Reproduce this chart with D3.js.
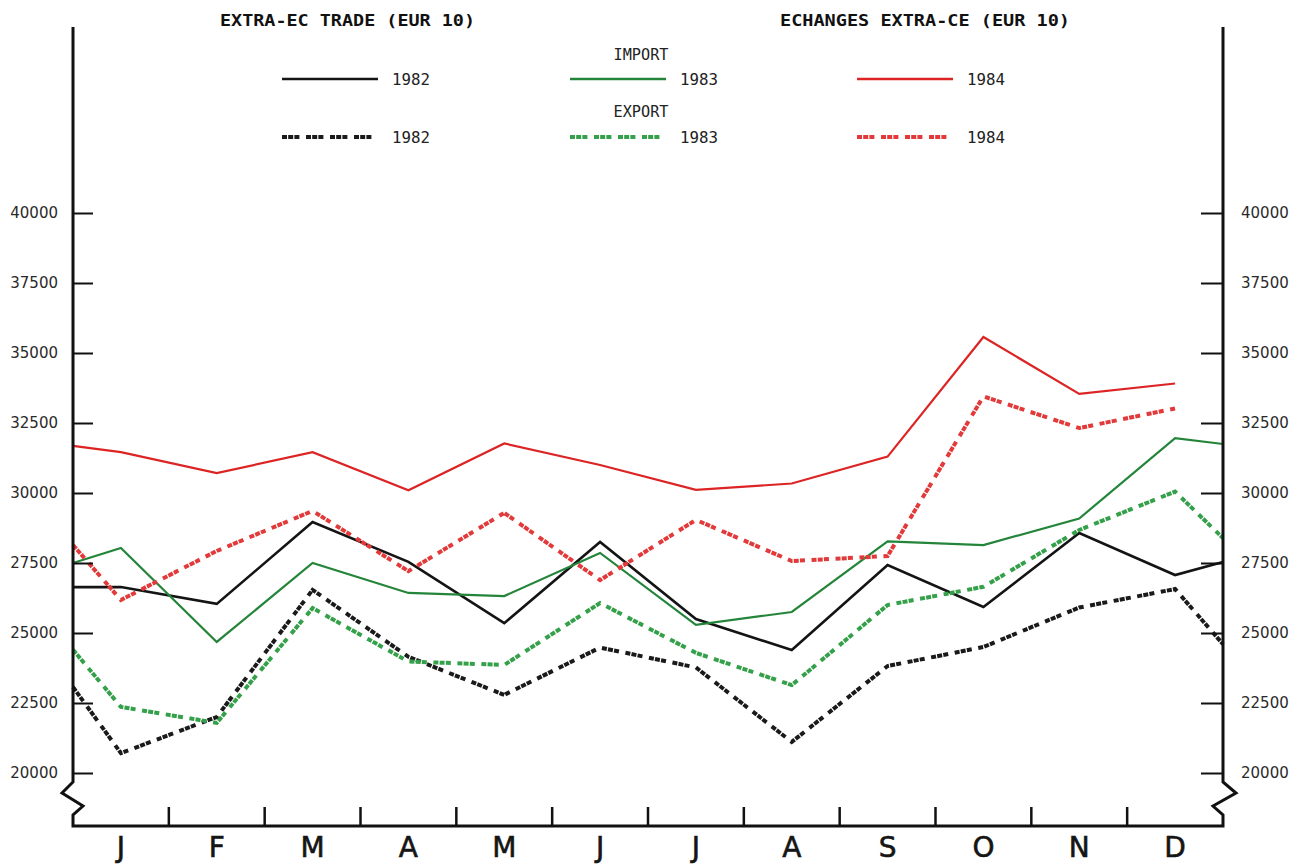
<!DOCTYPE html>
<html>
<head>
<meta charset="utf-8">
<script src="https://d3js.org/d3.v7.min.js"></script>
<style>
  body { margin: 0; background: #fff; }
</style>
</head>
<body>
<script>
let w = 1309;
let h = 865;

let months = ["J", "F", "M", "A", "M", "J", "J", "A", "S", "O", "N", "D"];
let yTicks = [20000, 22500, 25000, 27500, 30000, 32500, 35000, 37500, 40000];

// monthly values
let imp1982 = [26640, 26040, 28960, 27540, 25350, 28250, 25500, 24390, 27430, 25930, 28570, 27070];
let imp1983 = [28040, 24680, 27500, 26430, 26320, 27860, 25290, 25750, 28270, 28140, 29090, 31960];
let imp1984 = [31460, 30710, 31460, 30100, 31770, 31000, 30110, 30340, 31300, 35570, 33540, 33910];
let exp1982 = [20710, 22000, 26540, 24150, 22790, 24480, 23770, 21110, 23820, 24500, 25910, 26570];
let exp1983 = [22360, 21790, 25890, 23980, 23860, 26070, 24290, 23140, 26000, 26650, 28680, 30050];
let exp1984 = [26180, 27930, 29360, 27210, 29290, 26890, 29040, 27570, 27750, 33450, 32320, 33020];

// where each line meets the left and right axis (null = line stops at D)
let leftEdge  = [26640, 27500, 31680, 23070, 24400, 28140];
let rightEdge = [27540, 31750, null, 24600, 28390, null];

let years = ["1982", "1983", "1984"];
let colors = ["#141414", "#24853a", "#dc2424"];
let dashColors = ["#1a1a1a", "#35a04a", "#e23a3a"];
let dash = "5,1.2,5,1.2,5,6.6";

let series = [imp1982, imp1983, imp1984, exp1982, exp1983, exp1984];

let left = 73, right = 1223, bottom = 826;

let xScale = d3.scaleBand()
               .domain(d3.range(months.length))
               .range([left, right]);
let yScale = d3.scaleLinear()
               .domain([20000, 40000])
               .range([773, 213]);

let svg = d3.select("body")
            .append("svg")
            .attr("width", w)
            .attr("height", h);

// titles
svg.append("text")
   .attr("x", 220).attr("y", 26)
   .attr("textLength", 255).attr("lengthAdjust", "spacingAndGlyphs")
   .attr("font-family", "DejaVu Sans Mono").attr("font-weight", "bold")
   .attr("font-size", "16px").attr("fill", "#111")
   .text("EXTRA-EC TRADE (EUR 10)");
svg.append("text")
   .attr("x", 780).attr("y", 26)
   .attr("textLength", 290).attr("lengthAdjust", "spacingAndGlyphs")
   .attr("font-family", "DejaVu Sans Mono").attr("font-weight", "bold")
   .attr("font-size", "16px").attr("fill", "#111")
   .text("ECHANGES EXTRA-CE (EUR 10)");

// legend
let legendX = [282, 570, 857];
svg.selectAll(".legHead")
   .data(["IMPORT", "EXPORT"])
   .enter()
   .append("text")
   .attr("x", 641)
   .attr("y", function(d, i) { return 60 + i * 57; })
   .attr("text-anchor", "middle")
   .attr("textLength", 55).attr("lengthAdjust", "spacingAndGlyphs")
   .attr("font-family", "DejaVu Sans Mono")
   .attr("font-size", "15px")
   .attr("fill", "#222")
   .text(function(d) { return d; });

[0, 1].forEach(function(row) {
    let y = 79 + row * 58;
    svg.selectAll(".leg" + row)
       .data(years)
       .enter()
       .append("line")
       .attr("x1", function(d, i) { return legendX[i]; })
       .attr("x2", function(d, i) { return legendX[i] + 96; })
       .attr("y1", y).attr("y2", y)
       .attr("stroke", function(d, i) { return row ? dashColors[i] : colors[i]; })
       .attr("stroke-width", row ? 4 : 2.5)
       .attr("stroke-dasharray", row ? dash : null);
    svg.selectAll(".legt" + row)
       .data(years)
       .enter()
       .append("text")
       .attr("x", function(d, i) { return legendX[i] + 110; })
       .attr("y", y + 6)
       .attr("textLength", 38).attr("lengthAdjust", "spacingAndGlyphs")
       .attr("font-family", "DejaVu Sans Mono")
       .attr("font-size", "15px")
       .attr("fill", "#222")
       .text(function(d) { return d; });
});

// data lines
let line = d3.line()
             .x(function(d) { return d[0]; })
             .y(function(d) { return yScale(d[1]); });

series.forEach(function(vals, s) {
    let pts = [[left, leftEdge[s]]];
    vals.forEach(function(v, i) {
        pts.push([xScale(i) + xScale.bandwidth() / 2, v]);
    });
    if (rightEdge[s] !== null) pts.push([right, rightEdge[s]]);
    let dashed = s >= 3;
    let c = s % 3;
    svg.append("path")
       .datum(pts)
       .attr("d", line)
       .attr("fill", "none")
       .attr("stroke", dashed ? dashColors[c] : colors[c])
       .attr("stroke-width", dashed ? 4 : (c === 0 ? 2.6 : 2.2))
       .attr("stroke-linejoin", "miter")
       .attr("stroke-dasharray", dashed ? dash : null);
});

// y axes, ticks pointing inward
let leftAxis = d3.axisLeft(yScale)
                 .tickValues(yTicks)
                 .tickSizeInner(-20)
                 .tickSizeOuter(0)
                 .tickPadding(15)
                 .tickFormat(d3.format("d"));
let rightAxis = d3.axisRight(yScale)
                  .tickValues(yTicks)
                  .tickSizeInner(-22)
                  .tickSizeOuter(0)
                  .tickPadding(18)
                  .tickFormat(d3.format("d"));

[[leftAxis, left], [rightAxis, right]].forEach(function(a) {
    let g = svg.append("g")
               .attr("transform", "translate(" + a[1] + ",0)")
               .call(a[0]);
    g.select(".domain").remove();
    g.selectAll(".tick line").attr("stroke", "#111").attr("stroke-width", 2);
    g.selectAll(".tick text")
     .attr("font-family", "DejaVu Sans")
     .attr("font-size", "15px")
     .attr("fill", "#2a2a2a");
});

// frame with axis breaks
let frame = [[left, 27], [left, 782], [62, 793], [83, 806], [left, 815], [left, bottom],
             [right, bottom], [right, 815], [1213, 806], [1236, 793], [right, 782], [right, 27]];
svg.append("path")
   .attr("d", d3.line()(frame))
   .attr("fill", "none")
   .attr("stroke", "#111")
   .attr("stroke-width", 3)
   .attr("stroke-linejoin", "miter");

// month ticks at band boundaries and labels at centres
svg.selectAll(".mtick")
   .data(d3.range(1, months.length))
   .enter()
   .append("line")
   .attr("x1", function(d) { return xScale(d); })
   .attr("x2", function(d) { return xScale(d); })
   .attr("y1", bottom)
   .attr("y2", bottom - 19)
   .attr("stroke", "#111")
   .attr("stroke-width", 2.5);

svg.selectAll(".mlab")
   .data(months)
   .enter()
   .append("text")
   .attr("x", function(d, i) { return xScale(i) + xScale.bandwidth() / 2; })
   .attr("y", 857)
   .attr("text-anchor", "middle")
   .attr("font-family", "DejaVu Sans")
   .attr("font-size", "28px")
   .attr("fill", "#151515")
   .attr("stroke", "#151515")
   .attr("stroke-width", 0.6)
   .text(function(d) { return d; });
</script>
</body>
</html>
